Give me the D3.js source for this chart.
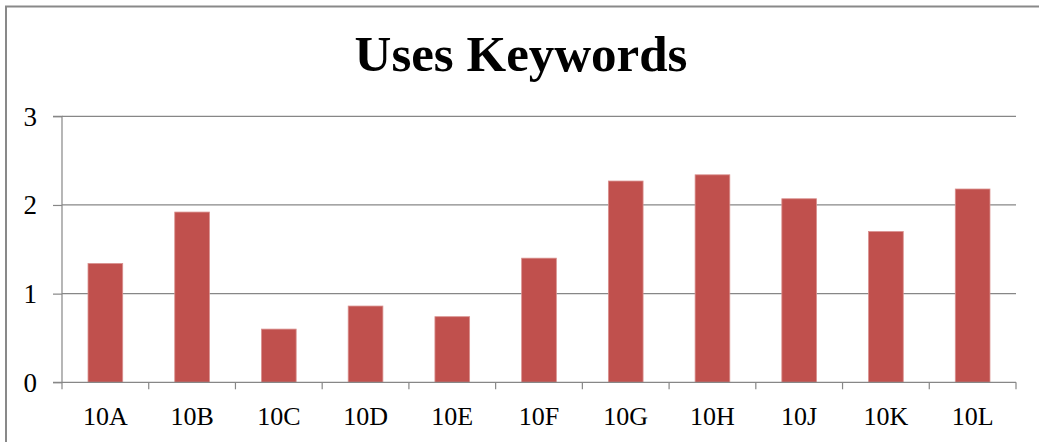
<!DOCTYPE html>
<html><head><meta charset="utf-8">
<script src="https://cdn.jsdelivr.net/npm/d3@7"></script>
<style>html,body{margin:0;padding:0;background:#fff;}svg{display:block;}</style>
</head><body>
<svg id="c" width="1039" height="442"></svg>
<script>
const categories = ["10A","10B","10C","10D","10E","10F","10G","10H","10J","10K","10L"];
const values = [1.34, 1.92, 0.60, 0.86, 0.74, 1.40, 2.27, 2.34, 2.07, 1.70, 2.18];
const yTicks = [0, 1, 2, 3];
const title = "Uses Keywords";

const svg = d3.select("#c");
const font = "'Liberation Serif', 'DejaVu Serif', serif";
const m = {left: 62, right: 1016, top: 116.3, bottom: 382.3};

// outer frame
svg.append("path").attr("d","M6,442 V6.5 H1039").attr("fill","none").attr("stroke","#898989").attr("stroke-width",2);

const x = d3.scaleBand().domain(categories).range([m.left, m.right]).paddingInner(0.6).paddingOuter(0.3);
const y = d3.scaleLinear().domain([0, 3]).range([m.bottom, m.top]);

// gridlines
svg.append("g").selectAll("line").data(yTicks.filter(d=>d>0)).join("line")
  .attr("x1", m.left).attr("x2", m.right).attr("y1", d=>y(d)).attr("y2", d=>y(d))
  .attr("stroke","#878787").attr("stroke-width",1.2);

// bars
svg.append("g").selectAll("rect").data(values).join("rect")
  .attr("x",(d,i)=>x(categories[i])).attr("width",x.bandwidth())
  .attr("y",d=>y(d)).attr("height",d=>y(0)-y(d))
  .attr("fill","#C0504D").attr("stroke","#D9908E").attr("stroke-width",0.8);

// y axis
const ya = d3.axisLeft(y).tickValues(yTicks).tickFormat(d3.format("d")).tickSize(9).tickPadding(16);
const gy = svg.append("g").attr("transform",`translate(${m.left},0)`).call(ya);
gy.select(".domain").attr("stroke","#878787").attr("stroke-width",1.2).attr("d",`M-9,${m.top}H0V${m.bottom}H-9`);
gy.selectAll(".tick line").attr("stroke","#878787").attr("stroke-width",1.2);
gy.selectAll(".tick text").attr("font-family",font).attr("font-size",27).attr("fill","#000").attr("dy","0.33em");

// x axis
const edges = d3.range(categories.length+1).map(i => m.left + i*(m.right-m.left)/categories.length);
const gx = svg.append("g");
gx.append("line").attr("x1",m.left).attr("x2",m.right).attr("y1",m.bottom).attr("y2",m.bottom).attr("stroke","#878787").attr("stroke-width",1.2);
gx.selectAll("line.t").data(edges).join("line").attr("class","t")
  .attr("x1",d=>d).attr("x2",d=>d).attr("y1",m.bottom).attr("y2",m.bottom+7)
  .attr("stroke","#878787").attr("stroke-width",1.2);
gx.selectAll("text").data(categories).join("text")
  .attr("x",d=>x(d)+x.bandwidth()/2).attr("y",425)
  .attr("text-anchor","middle").attr("font-family",font).attr("font-size",26).attr("fill","#000").text(d=>d);

// title
svg.append("text").attr("x",521).attr("y",71).attr("text-anchor","middle")
  .attr("font-family",font).attr("font-weight","bold").attr("font-size",51).attr("fill","#000").text(title);
</script>
</body></html>
